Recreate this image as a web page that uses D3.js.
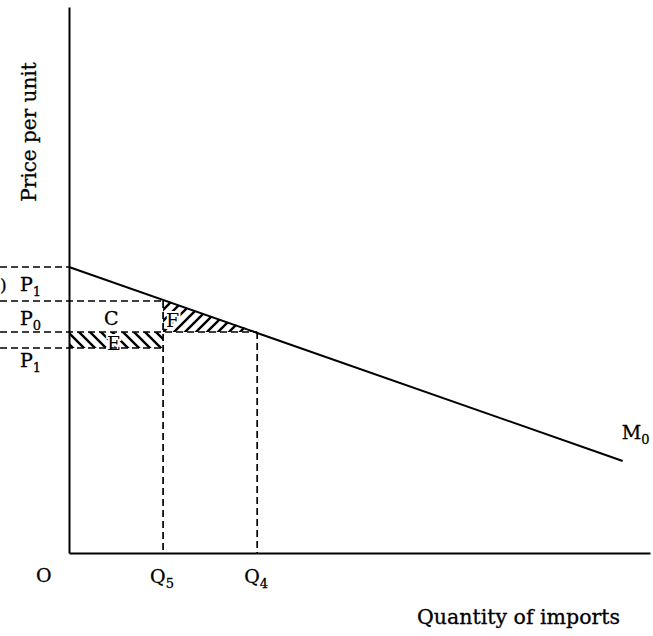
<!DOCTYPE html>
<html>
<head>
<meta charset="utf-8">
<script src="https://cdn.jsdelivr.net/npm/d3@7"></script>
<style>
  body { margin: 0; background: #fff; }
  text { font-family: "DejaVu Serif", "Liberation Serif", serif; fill: #000; stroke: #000; stroke-width: 0.3; }
  text.halo { stroke: #fff; stroke-width: 4; paint-order: stroke; }
</style>
</head>
<body>
<svg id="canvas"></svg>
<script>
let width = 653;
let height = 636;

// import demand curve M0 (quantity, price)
let demand = [[0, 28.6], [11.77, 9.2]];
// quantity marks
let qLabels = ['5', '4'];
let qValues = [2, 4];
// price levels: upper P1, P0, world price, lower P1
let priceTop = 28.6;
let priceP0 = 25.2;
let priceW = 22.1;
let priceLow = 20.5;

let svg = d3.select('#canvas').attr('width', width).attr('height', height);

let xScale = d3.scaleLinear().domain([0, 12.35]).range([69, 650]);
let yScale = d3.scaleLinear().domain([0, 54.6]).range([553, 7]);

let priceAt = (q) => demand[0][1] + (demand[1][1] - demand[0][1]) * (q - demand[0][0]) / (demand[1][0] - demand[0][0]);

// hatch patterns
let defs = svg.append('defs');
defs.append('pattern').attr('id', 'hatchE').attr('patternUnits', 'userSpaceOnUse')
  .attr('width', 11).attr('height', 11)
  .append('path').attr('d', 'M-2,-2 L13,13 M-2,9 L2,13 M9,-2 L13,2')
  .attr('stroke', '#000').attr('stroke-width', 2.4);
defs.append('pattern').attr('id', 'hatchF').attr('patternUnits', 'userSpaceOnUse')
  .attr('width', 11).attr('height', 11)
  .append('path').attr('d', 'M-2,13 L13,-2 M-2,2 L2,-2 M9,13 L13,9')
  .attr('stroke', '#000').attr('stroke-width', 2.4);

// area E
svg.append('rect')
  .attr('x', xScale(0) + 1).attr('y', yScale(priceW))
  .attr('width', xScale(qValues[0]) - xScale(0) - 1)
  .attr('height', yScale(priceLow) - yScale(priceW))
  .attr('fill', 'url(#hatchE)');

// area F
let fPts = [[qValues[0], priceAt(qValues[0])], [qValues[1], priceW], [qValues[0], priceW]];
svg.append('path')
  .attr('d', d3.line().x(d => xScale(d[0])).y(d => yScale(d[1]))(fPts) + 'Z')
  .attr('fill', 'url(#hatchF)');

// labels inside hatched areas, with a white halo
svg.append('text').attr('class', 'halo').attr('x', 107).attr('y', 350).attr('font-size', 19).text('E');
svg.append('text').attr('class', 'halo').attr('x', 166).attr('y', 327).attr('font-size', 19).text('F');

// dashed guides
let dash = (x1, y1, x2, y2) => {
  svg.append('line').attr('x1', x1).attr('y1', y1).attr('x2', x2).attr('y2', y2)
    .attr('stroke', '#000').attr('stroke-width', 1.7).attr('stroke-dasharray', '7,4');
};
dash(0, yScale(priceTop), xScale(0), yScale(priceTop));
dash(0, yScale(priceP0), xScale(qValues[0]), yScale(priceP0));
dash(0, yScale(priceW), xScale(qValues[1]), yScale(priceW));
dash(0, yScale(priceLow), xScale(qValues[0]), yScale(priceLow));
dash(xScale(qValues[0]), yScale(priceP0), xScale(qValues[0]), yScale(0));
dash(xScale(qValues[1]), yScale(priceW), xScale(qValues[1]), yScale(0));

// axes
let xAxis = d3.axisBottom(xScale).tickValues([]).tickSizeOuter(0);
let yAxis = d3.axisLeft(yScale).tickValues([]).tickSizeOuter(0);
svg.append('g').attr('transform', 'translate(0,' + yScale(0) + ')').call(xAxis)
  .select('.domain').attr('stroke-width', 2);
svg.append('g').attr('transform', 'translate(' + xScale(0) + ',0)').call(yAxis)
  .select('.domain').attr('stroke-width', 2);

// demand line
svg.append('path')
  .attr('d', d3.line().x(d => xScale(d[0])).y(d => yScale(d[1]))(demand))
  .attr('fill', 'none').attr('stroke', '#000').attr('stroke-width', 2);

// labels
let label = (x, y, t, sub, size) => {
  let el = svg.append('text').attr('x', x).attr('y', y).attr('font-size', size || 19);
  el.append('tspan').text(t);
  if (sub) el.append('tspan').attr('font-size', 13).attr('dy', 5).text(sub);
  return el;
};
label(0, 291, ')', null, 17);
label(20, 291, 'P', '1');
label(20, 325, 'P', '0');
label(20, 367, 'P', '1');
label(104, 325, 'C');
label(xScale(demand[1][0]) - 1, yScale(demand[1][1]) - 22, 'M', '0');
label(36, 582, 'O');
qValues.forEach((q, i) => {
  label(xScale(q) - 13, 583, 'Q', qLabels[i]);
});
svg.append('text').attr('x', 417).attr('y', 624)
  .attr('font-size', 20.5).text('Quantity of imports');
svg.append('text').attr('transform', 'translate(36,132) rotate(-90)')
  .attr('text-anchor', 'middle').attr('font-size', 20).text('Price per unit');
</script>
</body>
</html>
